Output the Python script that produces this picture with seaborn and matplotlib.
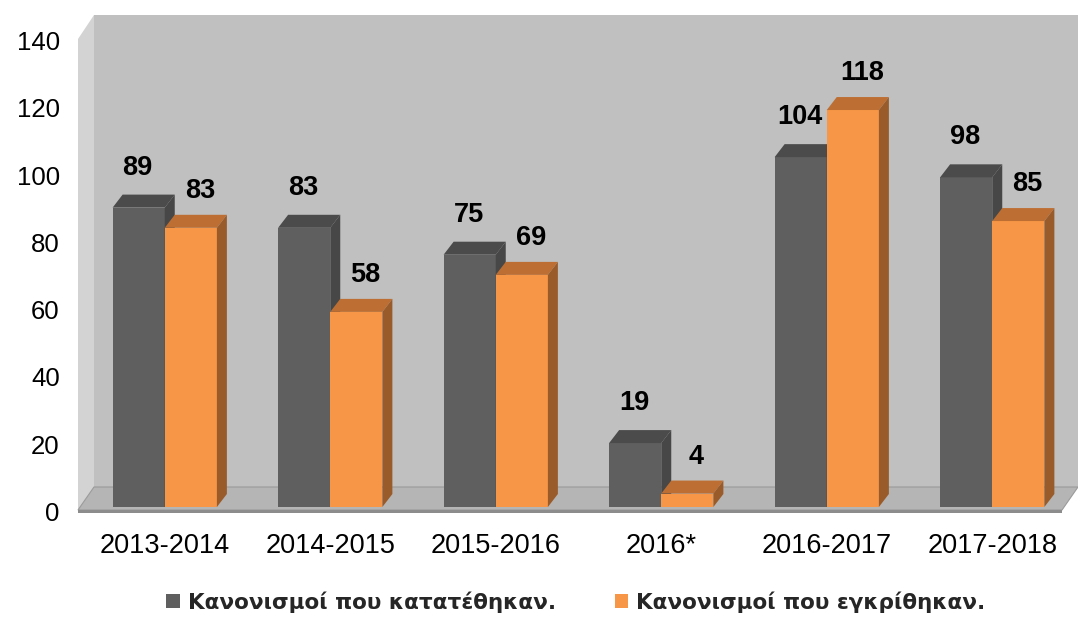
import numpy as np
import pandas as pd
import matplotlib
matplotlib.use("Agg")
import matplotlib.pyplot as plt
import matplotlib.transforms as mtransforms
from matplotlib.patches import Polygon, Patch
import seaborn as sns

periods = ['2013-2014', '2014-2015', '2015-2016', '2016*', '2016-2017', '2017-2018']
filed = [89, 83, 75, 19, 104, 98]
approved = [83, 58, 69, 4, 118, 85]
series_names = ['Κανονισμοί που κατατέθηκαν.', 'Κανονισμοί που εγκρίθηκαν.']

dark = '#5f5f5f'
dark_top = '#4b4b4b'
dark_side = '#474747'
orange = '#f79646'
orange_top = '#bd6f33'
orange_side = '#9a5b2a'

df = pd.DataFrame({
    'period': periods * 2,
    'count': filed + approved,
    'series': [series_names[0]] * len(periods) + [series_names[1]] * len(periods),
})

sns.set_theme(style='white')
plt.rcParams['font.family'] = ['Liberation Sans', 'DejaVu Sans']

W, H = 1078, 617
fig = plt.figure(figsize=(W / 100, H / 100), dpi=100)

def fx(x):
    return x / W

def fy(y):
    return 1 - y / H

# axes geometry in pixel
ax_l, ax_r, ax_t, ax_b = 82, 1075, 15, 507
ax = fig.add_axes([fx(ax_l), fy(ax_b), fx(ax_r - ax_l), (ax_b - ax_t) / H])
ax.set_facecolor('none')

# 3D box decoration (walls & floor) in figure coordinates
def fpoly(pts, **kw):
    p = Polygon([(fx(x), fy(y)) for x, y in pts], closed=True,
                transform=fig.transFigure, clip_on=False, **kw)
    ax.add_artist(p)
    return p

fpoly([(94, 15), (1078, 15), (1078, 487), (94, 487)], facecolor='#c0c0c0', edgecolor='none', zorder=0.1)
fpoly([(78, 39), (94, 15), (94, 487), (78, 510)], facecolor='#d3d3d3', edgecolor='none', zorder=0.1)
fpoly([(78, 510), (94, 487), (1078, 487), (1062, 510)], facecolor='#b5b5b5', edgecolor='#9a9a9a', lw=0.8, zorder=0.2)
fpoly([(78, 510), (1062, 510), (1062, 513), (78, 513)], facecolor='#8c8c8c', edgecolor='none', zorder=0.2)

sns.barplot(data=df, x='period', y='count', hue='series', palette=[dark, orange],
            width=0.63, dodge=True, saturation=1, legend=False, ax=ax, zorder=3)

ymax = (ax_b - ax_t) / 3.364
ax.set_ylim(0, ymax)
ax.set_xlim(-0.5, len(periods) - 0.5)
for s in ax.spines.values():
    s.set_visible(False)
ax.set_xlabel('')
ax.set_ylabel('')
ax.set_yticks(np.arange(0, 141, 20))
ax.tick_params(axis='y', length=0, pad=16, labelsize=18.5, labelcolor='black')
ax.tick_params(axis='x', length=0, pad=19, labelsize=19.5, labelcolor='black')
off = mtransforms.ScaledTranslation(0, -4.5 / 100, fig.dpi_scale_trans)
for lab in ax.get_yticklabels():
    lab.set_transform(lab.get_transform() + off)

# 3D faces for bars
fig.canvas.draw()
inv = ax.transData.inverted()
p0 = ax.transData.transform((0, 0))
dxd = (inv.transform((p0[0] + 10, p0[1])) - inv.transform(p0))[0]
dyd = (inv.transform((p0[0], p0[1] + 13)) - inv.transform(p0))[1]

face_cols = [(dark_top, dark_side), (orange_top, orange_side)]
label_off = [(-1, 40), (9, 37)]
for ci, cont in enumerate(ax.containers):
    top_c, side_c = face_cols[ci]
    for bar in cont:
        x0 = bar.get_x()
        w = bar.get_width()
        h = bar.get_height()
        bar.set_edgecolor('none')
        z = 3 + ci
        bar.set_zorder(z)
        top = Polygon([(x0, h), (x0 + dxd, h + dyd), (x0 + w + dxd, h + dyd), (x0 + w, h)],
                      closed=True, facecolor=top_c, edgecolor='none', zorder=z)
        side = Polygon([(x0 + w, 0), (x0 + w, h), (x0 + w + dxd, h + dyd), (x0 + w + dxd, dyd)],
                       closed=True, facecolor=side_c, edgecolor='none', zorder=z)
        ax.add_patch(top)
        ax.add_patch(side)
        ax.annotate(f'{int(round(h))}', (x0 + w / 2, h), xytext=label_off[ci],
                    textcoords='offset pixels', ha='center', va='center',
                    fontsize=19.5, fontweight='bold', color='black', zorder=10)

handles = [Patch(facecolor=dark, edgecolor='none'), Patch(facecolor=orange, edgecolor='none')]
fig.legend(handles, series_names, loc='center', bbox_to_anchor=(fx(576), fy(602)),
           ncol=2, frameon=False, handlelength=0.65, handleheight=0.65, handletextpad=0.37,
           columnspacing=2.7, prop={'family': 'DejaVu Sans', 'weight': 'bold', 'size': 15.5})

fig.savefig('out.png', dpi=100)
